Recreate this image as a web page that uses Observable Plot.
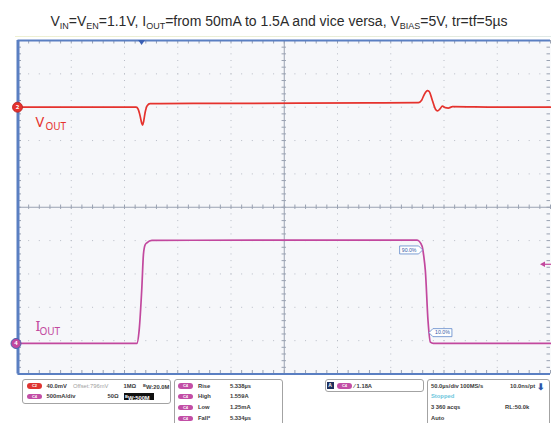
<!DOCTYPE html>
<html><head><meta charset="utf-8">
<script src="https://cdn.jsdelivr.net/npm/d3@7"></script>
<script src="https://cdn.jsdelivr.net/npm/@observablehq/plot@0.6"></script>
<style>
body{margin:0;background:#fff;font-family:"Liberation Sans",Arial,sans-serif;}
#wrap{position:relative;width:551px;height:423px;overflow:hidden;background:#fff;}
#chart{position:absolute;left:0;top:0;}
#title{position:absolute;left:0;width:558px;top:13px;text-align:center;font-size:14px;line-height:16px;color:#2b2b2b;white-space:nowrap;}
#title sub{font-size:9px;vertical-align:-3px;line-height:0;}
#yl{position:absolute;left:15px;top:36px;width:536px;height:1px;background:linear-gradient(90deg,#eef0d2,#e8edd8 65%,#dfe9e6);}
.box{position:absolute;border:1px solid #a3a3a3;border-radius:3px;background:#fff;}
.t{position:absolute;white-space:nowrap;font-size:5.8px;line-height:8px;font-weight:bold;color:#3a3a3a;}
.g{color:#a0a0a0;font-weight:normal;}
.pill{position:absolute;width:15px;height:5.5px;border-radius:3px;color:#fff;font-size:4px;line-height:5.5px;text-align:center;font-weight:bold;}
.c2{background:#de3431;}
.c4{background:#c24ea6;}
</style></head>
<body><div id="wrap">
<div id="chart"></div>
<div id="title">V<sub>IN</sub>=V<sub>EN</sub>=1.1V, I<sub>OUT</sub>=from 50mA to 1.5A and vice versa, V<sub>BIAS</sub>=5V, tr=tf=5µs</div>
<div id="yl"></div>

<div class="box" style="left:22px;top:379px;width:147px;height:23px;"></div>
<div class="pill c2" style="left:27px;top:383px;">C2</div>
<div class="t" style="left:46.5px;top:381.5px;">40.0mV</div>
<div class="t g" style="left:73px;top:381.5px;">Offset:796mV</div>
<div class="t" style="left:123.5px;top:381.5px;">1MΩ</div>
<div class="t" style="left:143px;top:381.5px;"><span style="font-size:4px;vertical-align:2px">B</span>W:20.0M</div>
<div class="pill c4" style="left:27px;top:393.5px;">C4</div>
<div class="t" style="left:46.5px;top:392px;">500mA/div</div>
<div class="t" style="left:107.5px;top:392px;">50Ω</div>
<div class="t" style="left:124px;top:392.5px;width:28.5px;height:7.5px;line-height:7.5px;background:#111;color:#fff;padding-left:1px;"><span style="font-size:4px;vertical-align:2px">B</span>W:500M</div>

<div class="box" style="left:174px;top:379px;width:107px;height:60px;"></div>
<div class="pill c4" style="left:178px;top:383px;">C4</div>
<div class="pill c4" style="left:178px;top:393.5px;">C4</div>
<div class="pill c4" style="left:178px;top:404.5px;">C4</div>
<div class="pill c4" style="left:178px;top:415.5px;">C4</div>
<div class="t" style="left:198px;top:381.5px;">Rise</div>
<div class="t" style="left:198px;top:392px;">High</div>
<div class="t" style="left:198px;top:403px;">Low</div>
<div class="t" style="left:198px;top:414px;">Fall*</div>
<div class="t" style="left:230px;top:381.5px;">5.338µs</div>
<div class="t" style="left:230px;top:392px;">1.559A</div>
<div class="t" style="left:230px;top:403px;">1.25mA</div>
<div class="t" style="left:230px;top:414px;">5.334µs</div>

<div class="box" style="left:325px;top:379px;width:97px;height:11px;"></div>
<div class="t" style="left:326.5px;top:382px;width:7px;height:7px;background:#1f2f5c;color:#fff;font-size:5px;line-height:7px;text-align:center;">A</div>
<div class="pill c4" style="left:337px;top:383px;">C4</div>
<div class="t" style="left:354px;top:381.5px;">⁄ 1.18A</div>

<div class="box" style="left:426.5px;top:379px;width:121px;height:60px;"></div>
<div class="t" style="left:431px;top:381.5px;">50.0µs/div</div>
<div class="t" style="left:460px;top:381.5px;">100MS/s</div>
<div class="t" style="left:510px;top:381.5px;">10.0ns/pt</div>
<div class="t" style="left:431px;top:392px;color:#6cc6dc;">Stopped</div>
<div class="t" style="left:536.5px;top:382px;color:#2d56a8;font-size:9px;line-height:11px;">⬇</div>
<div class="t" style="left:431px;top:403px;">3 360 acqs</div>
<div class="t" style="left:505px;top:403px;">RL:50.0k</div>
<div class="t" style="left:431px;top:414px;">Auto</div>
</div>
<script>
// ---- data ----
const timeDomain = [0, 500];          // µs (50 µs/div, 10 div)
const divDomain = [-5, 5];            // vertical divisions
const voutScale = 40, voutPos = 3;    // mV/div, position (div)
const ioutScale = 0.5, ioutPos = -4.085; // A/div, position (div)

const voutTime = [0, 60, 111, 112.8, 114.7, 116.1, 117, 118, 119.4, 121.3, 124, 133.5, 200, 265, 330, 376, 379, 381.6, 384.4, 386, 389, 392, 394, 396, 398.5, 401.3, 404, 408, 450, 500];
const voutMv   = [0, 0, 0, -2.4, -10.7, -19, -21.6, -16.8, -6, 1.8, 4.2, 4.4, 4.6, 4.8, 5.2, 5.6, 8.4, 15.6, 19.8, 19, 8.4, -2.4, -4.4, -2.4, 1.2, -0.6, -1, 0.6, 0, 0];

const ioutTime = [0, 111.6, 113.7, 116.3, 117.8, 119.4, 121, 125.7, 250, 374.7, 379.4, 381, 382.5, 385, 387.2, 390, 500];
const ioutAmp  = [0.00125, 0.00125, 0.19, 0.84, 1.34, 1.48, 1.51, 1.545, 1.55, 1.55, 1.46, 1.31, 1.09, 0.34, 0.02, 0.00125, 0.00125];

const trigTime = 116.5, trigLevel = 1.18; // A
const tagLabels = ["90.0%", "10.0%"];
const tagTimes = [380.4, 386.3];
const tagAmps = [1.395, 0.155];
const tagSides = ["left", "right"];

// ---- helpers ----
const vDiv = mv => voutPos + mv / voutScale;
const iDiv = a => ioutPos + a / ioutScale;
const majorT = d3.range(50, 500, 50).filter(t => t !== 250);
const majorY = d3.range(-4, 5, 1).filter(y => y !== 0);
const minorT = d3.range(0, 500.1, 10);
const minorY = d3.range(-5, 5.01, 0.2);
const W = 551, H = 423, mT = 40, mB = 49.5, mL = 17.5, mR = 1;
const pxY = 10 / (H - mT - mB);        // div per px
const pxT = 500 / (W - mL - mR);       // µs per px

const gridC = "#b8bcc6", axisC = "#9aa2b2", blue = "#5a7fc2";
const red = "#e5322d", mag = "#c2489e";

function overlay(index, scales, values, dims) {
  const x = scales.x, y = scales.y;
  const g = d3.create("svg:g");
  const tx = x(trigTime), ty = y(5);
  g.append("path").attr("d", `M${tx-3.5},${ty} L${tx+3.5},${ty} L${tx},${ty+5} Z`).attr("fill", "#3a60b4");
  const ly = y(iDiv(trigLevel)), rx = dims.width;
  g.append("line").attr("x1", rx - 7).attr("x2", rx).attr("y1", ly).attr("y2", ly).attr("stroke", mag).attr("stroke-width", 1.2);
  g.append("path").attr("d", `M${rx-11},${ly} L${rx-6},${ly-2.8} L${rx-6},${ly+2.8} Z`).attr("fill", mag);
  tagLabels.forEach((lab, i) => {
    const X = x(tagTimes[i]), Y = y(iDiv(tagAmps[i]));
    const w = 19, h = 8, tip = 4;
    let d, cx;
    if (tagSides[i] === "left") {
      d = `M${X},${Y} L${X-tip},${Y-h/2} L${X-tip-w},${Y-h/2} L${X-tip-w},${Y+h/2} L${X-tip},${Y+h/2} Z`;
      cx = X - tip - w / 2;
    } else {
      d = `M${X},${Y} L${X+tip},${Y-h/2} L${X+tip+w},${Y-h/2} L${X+tip+w},${Y+h/2} L${X+tip},${Y+h/2} Z`;
      cx = X + tip + w / 2;
    }
    g.append("path").attr("d", d).attr("fill", "#fff").attr("stroke", "#5d86c9").attr("stroke-width", 0.8);
    g.append("text").attr("x", cx).attr("y", Y + 1.8).attr("text-anchor", "middle")
      .attr("font-size", 5.2).attr("fill", "#3559a6").attr("font-family", "Liberation Sans, Arial").text(lab);
  });
  return g.node();
}

const plot = Plot.plot({
  width: W, height: H,
  marginTop: mT, marginBottom: mB, marginLeft: mL, marginRight: mR,
  x: {domain: timeDomain, axis: null},
  y: {domain: divDomain, axis: null},
  style: {background: "transparent", overflow: "visible"},
  marks: [
    Plot.frame({fill: "#f6f7fa", stroke: null}),
    Plot.ruleX(majorT, {stroke: gridC, strokeDasharray: "1,5.67", strokeWidth: 1}),
    Plot.ruleY(majorY, {stroke: gridC, strokeDasharray: "1,9.65", strokeWidth: 1}),
    Plot.ruleX([250], {stroke: axisC, strokeWidth: 1}),
    Plot.ruleY([0], {stroke: axisC, strokeWidth: 1}),
    Plot.ruleX(minorT, {x: d => d, y1: -2.2 * pxY, y2: 2.2 * pxY, stroke: axisC}),
    Plot.ruleY(minorY, {y: d => d, x1: 250 - 2.2 * pxT, x2: 250 + 2.2 * pxT, stroke: axisC}),
    Plot.ruleX(minorT, {x: d => d, y1: 5, y2: 5 - 3.5 * pxY, stroke: axisC}),
    Plot.ruleX(minorT, {x: d => d, y1: -5, y2: -5 + 3.5 * pxY, stroke: axisC}),
    Plot.ruleY(minorY, {y: d => d, x1: 0, x2: 3.5 * pxT, stroke: axisC}),
    Plot.ruleY(minorY, {y: d => d, x1: 500, x2: 500 - 3.5 * pxT, stroke: axisC}),
    Plot.ruleY([5], {stroke: blue, strokeWidth: 2}),
    Plot.ruleY([-5], {stroke: blue, strokeWidth: 2}),
    Plot.ruleX([0], {stroke: blue, strokeWidth: 3}),
    Plot.line(voutTime, {x: d => d, y: (d, i) => vDiv(voutMv[i]), stroke: red, strokeWidth: 1.7, curve: "monotone-x"}),
    Plot.line(ioutTime, {x: d => d, y: (d, i) => iDiv(ioutAmp[i]), stroke: mag, strokeWidth: 1.7, curve: "monotone-x"}),
    Plot.dot([vDiv(0)], {x: 0, y: d => d, r: 5, fill: red, stroke: "#b82020", strokeWidth: 0.8, dx: -0.5}),
    Plot.text([vDiv(0)], {x: 0, y: d => d, text: ["2"], fill: "#fff", fontSize: 6, fontWeight: "bold", dx: -0.5}),
    Plot.dot([iDiv(0)], {x: 0, y: d => d, r: 5, fill: mag, stroke: "#4b63b0", strokeWidth: 1, dx: -2}),
    Plot.text([iDiv(0)], {x: 0, y: d => d, text: ["4"], fill: "#fff", fontSize: 6, fontWeight: "bold", dx: -2}),
    Plot.text(["V"], {x: 17.5 * pxT, y: voutPos - 19.7 * pxY, text: d => d, fill: red, fontSize: 14.5, textAnchor: "start", lineAnchor: "bottom"}),
    Plot.text(["OUT"], {x: 27.5 * pxT, y: voutPos - 23 * pxY, text: d => d, fill: red, fontSize: 10, textAnchor: "start", lineAnchor: "bottom"}),
    Plot.text(["I"], {x: 17.5 * pxT, y: -3.72, text: d => d, fill: mag, fontSize: 14.5, textAnchor: "start", lineAnchor: "bottom"}),
    Plot.text(["OUT"], {x: 21.5 * pxT, y: -3.72 - 3.3 * pxY, text: d => d, fill: mag, fontSize: 10, textAnchor: "start", lineAnchor: "bottom"}),
    overlay
  ]
});
document.getElementById("chart").appendChild(plot);
</script>
</body></html>
